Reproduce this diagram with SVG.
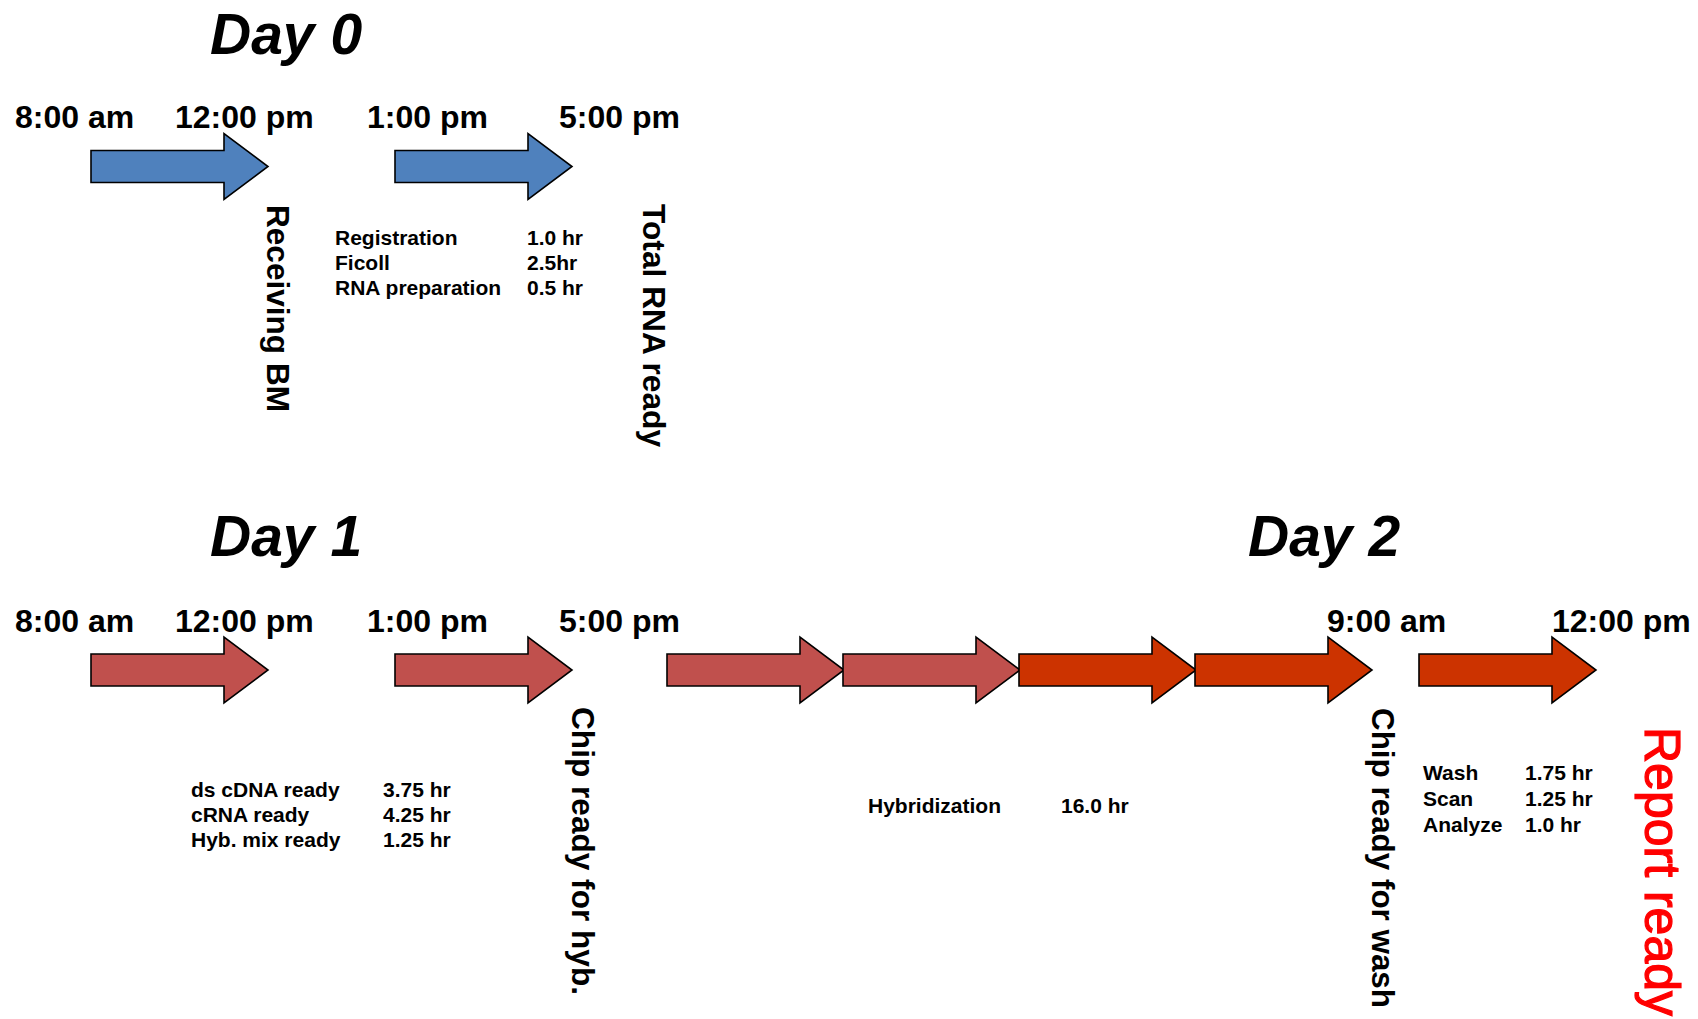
<svg xmlns="http://www.w3.org/2000/svg" xmlns:xlink="http://www.w3.org/1999/xlink" width="1698" height="1019" viewBox="0 0 1698 1019">
<style>
.title{font-family:"Liberation Sans",Arial,sans-serif;font-weight:bold;font-style:italic;font-size:57px;fill:#000}
.time{font-family:"Liberation Sans",Arial,sans-serif;font-weight:bold;font-size:32px;fill:#000}
.vert{font-family:"Liberation Sans",Arial,sans-serif;font-weight:bold;font-size:32px;fill:#000}
.tbl{font-family:"Liberation Sans",Arial,sans-serif;font-weight:bold;font-size:21px;fill:#000}
.report{font-family:"Liberation Sans",Arial,sans-serif;font-size:50px;fill:#FF0000;stroke:#FF0000;stroke-width:1.2}
.blue{fill:#4F81BD}
.red{fill:#C0504D}
.orange{fill:#CC3300}
</style>
<defs>
<polygon id="arrow" points="0,-16 133,-16 133,-33 177,0 133,33 133,16 0,16" stroke="#000" stroke-width="1.6" stroke-linejoin="miter"/>
</defs>
<rect width="1698" height="1019" fill="#fff"/>

<g id="titles">
<text class="title" x="210" y="54">Day 0</text>
<text class="title" x="210" y="556">Day 1</text>
<text class="title" x="1248" y="556">Day 2</text>
</g>

<g id="times">
<text class="time" x="15" y="128">8:00 am</text>
<text class="time" x="175" y="128">12:00 pm</text>
<text class="time" x="367" y="128">1:00 pm</text>
<text class="time" x="559" y="128">5:00 pm</text>
<text class="time" x="15" y="632">8:00 am</text>
<text class="time" x="175" y="632">12:00 pm</text>
<text class="time" x="367" y="632">1:00 pm</text>
<text class="time" x="559" y="632">5:00 pm</text>
<text class="time" x="1327" y="632">9:00 am</text>
<text class="time" x="1552" y="632">12:00 pm</text>
</g>

<g id="connectors">
<use xlink:href="#arrow" class="blue" transform="translate(91,166.5)"/>
<use xlink:href="#arrow" class="blue" transform="translate(395,166.5)"/>
<use xlink:href="#arrow" class="red" transform="translate(91,670)"/>
<use xlink:href="#arrow" class="red" transform="translate(395,670)"/>
<use xlink:href="#arrow" class="red" transform="translate(667,670)"/>
<use xlink:href="#arrow" class="red" transform="translate(843,670)"/>
<use xlink:href="#arrow" class="orange" transform="translate(1019,670)"/>
<use xlink:href="#arrow" class="orange" transform="translate(1195,670)"/>
<use xlink:href="#arrow" class="orange" transform="translate(1419,670)"/>
</g>

<g id="milestones">
<text class="vert" transform="translate(267,205) rotate(90)" textLength="207" lengthAdjust="spacingAndGlyphs">Receiving BM</text>
<text class="vert" transform="translate(643,204) rotate(90)" textLength="243" lengthAdjust="spacingAndGlyphs">Total RNA ready</text>
<text class="vert" transform="translate(572,707) rotate(90)" textLength="288" lengthAdjust="spacingAndGlyphs">Chip ready for hyb.</text>
<text class="vert" transform="translate(1372,708) rotate(90)" textLength="300" lengthAdjust="spacingAndGlyphs">Chip ready for wash</text>
<text class="report" transform="translate(1645,727) rotate(90)" textLength="289" lengthAdjust="spacingAndGlyphs">Report ready</text>
</g>

<g id="table-day0">
<text class="tbl" x="335" y="245">Registration</text>
<text class="tbl" x="335" y="270">Ficoll</text>
<text class="tbl" x="335" y="295">RNA preparation</text>
<text class="tbl" x="527" y="245">1.0 hr</text>
<text class="tbl" x="527" y="270">2.5hr</text>
<text class="tbl" x="527" y="295">0.5 hr</text>
</g>

<g id="table-day1">
<text class="tbl" x="191" y="797">ds cDNA ready</text>
<text class="tbl" x="191" y="822">cRNA ready</text>
<text class="tbl" x="191" y="847">Hyb. mix ready</text>
<text class="tbl" x="383" y="797">3.75 hr</text>
<text class="tbl" x="383" y="822">4.25 hr</text>
<text class="tbl" x="383" y="847">1.25 hr</text>
</g>

<g id="table-hyb">
<text class="tbl" x="868" y="813">Hybridization</text>
<text class="tbl" x="1061" y="813">16.0 hr</text>
</g>

<g id="table-day2">
<text class="tbl" x="1423" y="780">Wash</text>
<text class="tbl" x="1423" y="806">Scan</text>
<text class="tbl" x="1423" y="832">Analyze</text>
<text class="tbl" x="1525" y="780">1.75 hr</text>
<text class="tbl" x="1525" y="806">1.25 hr</text>
<text class="tbl" x="1525" y="832">1.0 hr</text>
</g>
</svg>
